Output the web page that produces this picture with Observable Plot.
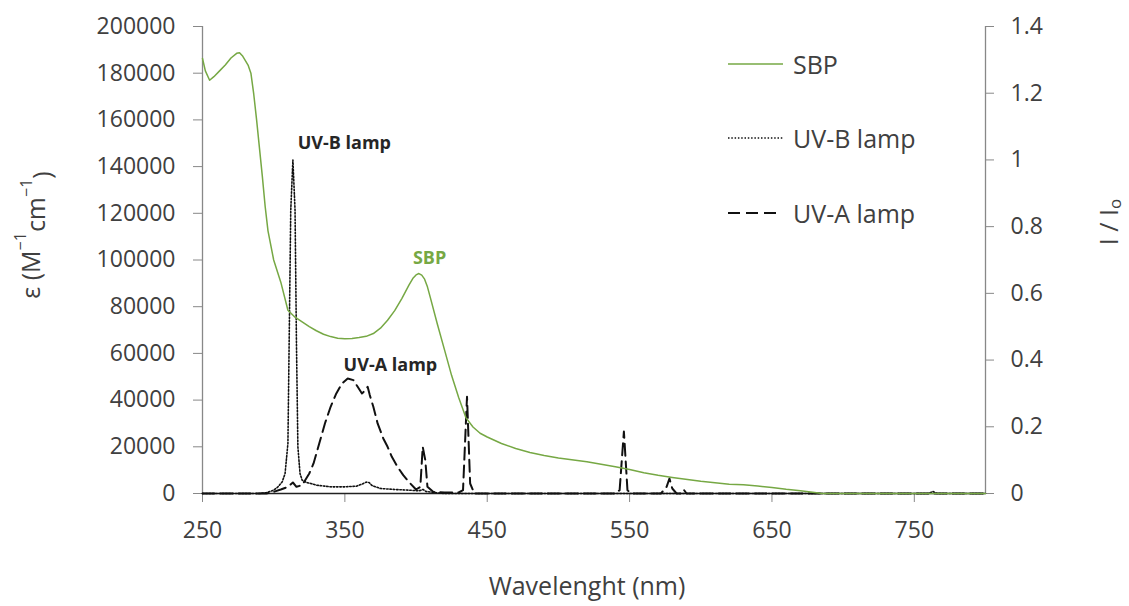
<!DOCTYPE html>
<html><head><meta charset="utf-8">
<script src="https://cdn.jsdelivr.net/npm/d3@7"></script>
<script src="https://cdn.jsdelivr.net/npm/@observablehq/plot@0.6"></script>
<style>
body{margin:0;background:#fff;}
#wrap{position:relative;width:1129px;height:606px;font-family:"Open Sans",sans-serif;}
.leg{position:absolute;left:728px;display:flex;align-items:center;font-size:25px;color:#404040;height:40px;line-height:40px;}
.leg svg{margin-right:10px;display:block}
</style></head><body><div id="wrap"></div>
<script>
// SBP molar absorption coefficient (left axis)
const sbpWl  = [250,252,255,258,262,266,270,274,276,278,280,282,284,286,288,290,292,294,296,300,305,310,315,320,325,330,335,340,345,350,355,360,365,370,375,380,385,390,395,398,400,402,404,406,408,410,415,420,425,430,435,440,445,450,460,470,480,490,500,520,540,550,560,570,580,600,620,630,640,650,660,670,680,685,700,800];
const sbpEps = [186300,181000,177000,178500,181000,183500,186500,188500,188800,187500,185500,183500,180000,171000,160000,148000,136000,123000,112500,100000,90500,78500,75500,73500,71500,69700,68200,67200,66500,66300,66400,66800,67300,68500,70800,74200,78300,83500,89200,92300,93600,94200,93500,91800,88500,84000,72500,61500,50500,41000,32500,28500,25800,24200,21400,19300,17600,16300,15200,13600,11500,10300,8900,7800,6900,5200,4000,3700,3200,2600,1800,1200,400,0,0,0];
// UV-B lamp relative intensity (right axis)
const uvbWl = [250,290,295,300,303,306,308,310,311,312,313.5,315,316,317,318.5,320,323,326,330,340,350,358,362,365,367,369,375,385,395,402,405,407,415,420,760,763,766,800];
const uvbI  = [0,0,0.003,0.01,0.02,0.035,0.06,0.15,0.5,0.85,1.0,0.85,0.45,0.14,0.06,0.04,0.033,0.03,0.025,0.02,0.02,0.022,0.028,0.034,0.033,0.024,0.015,0.012,0.01,0.008,0.012,0.006,0.002,0,0,0.006,0,0];
// UV-A lamp relative intensity (right axis)
const uvaWl = [250,295,300,305,310,313.5,316,320,325,328,332,336,340,344,348,352,356,359,362,364.5,366,367.5,370,373,377,380,383,387,391,396,400,403,404.7,406.5,408,412,420,430,433,435.8,438,441,540,543,546,548.5,551,572,576,578,580,583,586,588,590,800];
const uvaI  = [0,0,0.005,0.012,0.02,0.033,0.02,0.025,0.06,0.09,0.15,0.21,0.26,0.3,0.33,0.345,0.34,0.32,0.3,0.31,0.32,0.295,0.26,0.21,0.165,0.14,0.11,0.08,0.055,0.03,0.012,0.02,0.14,0.1,0.02,0.005,0.003,0.003,0.01,0.29,0.03,0,0,0.01,0.186,0.01,0,0,0.02,0.045,0.015,0,0,0.012,0,0];

const xTicks = [250,350,450,550,650,750];
const xDomain = [250,800];
const leftDomain = [0,200000];
const leftTicks = [0,20000,40000,60000,80000,100000,120000,140000,160000,180000,200000];
const rightMax = 1.4;
const rightTicks = [0,0.2,0.4,0.6,0.8,1,1.2,1.4];
const K = leftDomain[1]/rightMax;

// in-chart labels (centre wavelength, epsilon-scale value)
const labelText  = ["UV-B lamp","SBP","UV-A lamp"];
const labelWl    = [349.6, 409.5, 382.0];
const labelVal   = [150000, 100700, 54800];
const labelColor = ["#262626","#76a844","#262626"];

const green = "#76a844";
const sbp = sbpWl.map((w,i)=>({w, v:sbpEps[i]}));
const uvb = uvbWl.map((w,i)=>({w, v:uvbI[i]*K}));
const uva = uvaWl.map((w,i)=>({w, v:uvaI[i]*K}));
const labels = labelText.map((t,i)=>({t, w:labelWl[i], v:labelVal[i], c:labelColor[i]}));

const chart = Plot.plot({
  width:1129, height:606,
  marginLeft:202, marginRight:144, marginTop:26, marginBottom:113,
  x:{domain:xDomain},
  y:{domain:leftDomain},
  style:{fontFamily:"Open Sans, sans-serif", fontSize:"23px", color:"#404040", background:"#fff"},
  marks:[
    Plot.axisX({ticks:xTicks, tickSize:9, tickPadding:19, stroke:"#888", label:null, fontSize:23, tickFormat:d=>String(d)}),
    Plot.axisY({ticks:leftTicks, anchor:"left", tickSize:9, tickPadding:18, stroke:"#888", label:null, fontSize:23, tickFormat:d=>String(d)}),
    Plot.axisY(rightTicks.map(v=>v*K), {anchor:"right", tickSize:8, tickPadding:17, stroke:"#888", label:null, fontSize:23, tickFormat:d=>String(+(d/K).toFixed(1))}),
    Plot.ruleX([xDomain[0]], {stroke:"#888", strokeWidth:1.3}),
    Plot.ruleX([xDomain[1]], {stroke:"#888", strokeWidth:1.3}),
    Plot.ruleY([0], {stroke:"#222", strokeWidth:1.3}),
    Plot.line(uvb, {x:"w", y:"v", stroke:"#111", strokeWidth:1.6, strokeDasharray:"1.5,1.8"}),
    Plot.line(uva, {x:"w", y:"v", stroke:"#111", strokeWidth:2, strokeDasharray:"12,6"}),
    Plot.line(sbp, {x:"w", y:"v", stroke:green, strokeWidth:1.5}),
    Plot.text(labels, {x:"w", y:"v", text:"t", textAnchor:"middle", fill:"c", fontWeight:"bold", fontSize:18, lineAnchor:"middle"}),
    Plot.text(["Wavelenght (nm)"], {frameAnchor:"bottom", dx:-7, dy:93, fontSize:25, fill:"#404040", lineAnchor:"middle"})
  ]
});

// axis titles with super/subscripts
const svg = d3.select(chart.tagName.toLowerCase() === "svg" ? chart : chart.querySelector("svg"));
const lt = svg.append("text")
  .attr("transform","translate(30,235) rotate(-90)")
  .attr("text-anchor","middle").attr("dominant-baseline","central")
  .attr("font-family","Open Sans, sans-serif").attr("font-size",25).attr("fill","#404040");
lt.append("tspan").text("ε (M");
lt.append("tspan").attr("font-size",16).attr("dy","-0.6em").text("−1");
lt.append("tspan").attr("dy","0.6em").text("cm");
lt.append("tspan").attr("font-size",16).attr("dy","-0.6em").text("−1");
lt.append("tspan").attr("dy","0.6em").text(")");

const rt = svg.append("text")
  .attr("transform","translate(1108,222) rotate(-90)")
  .attr("text-anchor","middle").attr("dominant-baseline","central")
  .attr("font-family","Open Sans, sans-serif").attr("font-size",25).attr("fill","#404040");
rt.append("tspan").text("I / I");
rt.append("tspan").attr("font-size",17).attr("dy","0.35em").text("o");

const wrap = document.getElementById("wrap");
wrap.appendChild(chart);

// legend
const legItems = [
  {label:"SBP", top:44, dash:null, color:green, w:1.5, len:55},
  {label:"UV-B lamp", top:118, dash:"1.5,1.8", color:"#111", w:1.6, len:55},
  {label:"UV-A lamp", top:193, dash:"12,6", color:"#111", w:2, len:50}
];
for (const it of legItems) {
  const div = document.createElement("div");
  div.className = "leg";
  div.style.top = it.top + "px";
  const sw = d3.create("svg").attr("width", 55).attr("height", 10);
  sw.append("line").attr("x1",0).attr("x2",it.len).attr("y1",5).attr("y2",5)
    .attr("stroke", it.color).attr("stroke-width", it.w).attr("stroke-dasharray", it.dash);
  div.appendChild(sw.node());
  const sp = document.createElement("span");
  sp.textContent = it.label;
  div.appendChild(sp);
  wrap.appendChild(div);
}
</script>
</body></html>
